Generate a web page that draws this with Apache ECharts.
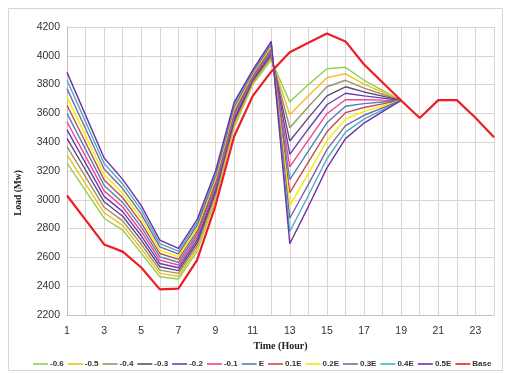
<!DOCTYPE html>
<html><head><meta charset="utf-8">
<script src="https://cdn.jsdelivr.net/npm/echarts@6/dist/echarts.min.js"></script>
<style>html,body{margin:0;padding:0;background:#fff}#c{width:507px;height:374px}</style>
</head><body><div id="c"></div>
<script>
const hours = ['1','2','3','4','5','6','7','8','9','10','11','12','13','14','15','16','17','18','19','20','21','22','23','24'];
const seriesNames = ['-0.6','-0.5','-0.4','-0.3','-0.2','-0.1','E','0.1E','0.2E','0.3E','0.4E','0.5E','Base'];
const colors = ['#92d050','#f5bd1f','#9a9466','#5f497a','#6a3cb0','#f0468c','#4f81bd','#c0504d','#f2ee00','#8064a2','#4bacc6','#7030a0','#ee1c25'];
const m06 = [3255,3064,2872,2790,2630,2466,2450,2640,3000,3500,3800,3970,3680,3800,3910,3920,3830,3760,3690];
const m05 = [3312,3111,2910,2822,2660,2489,2469,2660,3018,3516,3809,3982,3590,3723,3848,3875,3803,3747,3690];
const m04 = [3370,3159,2948,2854,2690,2512,2489,2680,3036,3532,3818,3994,3500,3646,3785,3830,3776,3733,3690];
const m03 = [3427,3207,2986,2886,2720,2535,2508,2700,3054,3548,3827,4006,3408,3569,3722,3785,3749,3720,3690];
const m02 = [3485,3255,3024,2918,2750,2558,2528,2720,3072,3564,3836,4018,3315,3492,3660,3740,3722,3706,3690];
const m01 = [3542,3302,3062,2950,2780,2581,2547,2740,3090,3580,3845,4030,3228,3415,3598,3695,3695,3692,3690];
const e10 = [3600,3350,3100,2982,2810,2604,2566,2760,3108,3596,3854,4042,3140,3338,3535,3650,3668,3679,3690];
const p01 = [3657,3398,3138,3014,2840,2627,2586,2780,3126,3612,3863,4054,3050,3261,3472,3605,3641,3666,3690];
const p02 = [3715,3446,3176,3046,2870,2650,2605,2800,3144,3628,3872,4066,2960,3184,3410,3560,3614,3652,3690];
const p03 = [3772,3493,3214,3078,2900,2673,2625,2820,3162,3644,3881,4078,2872,3107,3348,3515,3587,3639,3690];
const p04 = [3830,3541,3252,3110,2930,2696,2644,2840,3180,3660,3890,4090,2780,3030,3285,3470,3560,3625,3690];
const p05 = [3885,3588,3290,3142,2960,2720,2663,2860,3200,3676,3900,4100,2695,2953,3222,3425,3533,3612,3690];
const base = [3030,2860,2690,2640,2530,2378,2383,2580,2960,3440,3720,3890,4025,4090,4155,4100,3940,3815,3690,3568,3692,3692,3570,3435];
const allData = [m06,m05,m04,m03,m02,m01,e10,p01,p02,p03,p04,p05,base];

const chart = echarts.init(document.getElementById('c'), null, {renderer:'canvas'});
const series = seriesNames.map((n,i)=>({
  name:n, type:'line', data:allData[i], symbol:'none', smooth:false,
  lineStyle:{color:colors[i], width: n==='Base'?2.2:1.4},
  itemStyle:{color:colors[i]}, z: n==='Base'?5:2, animation:false
}));
chart.setOption({
  animation:false,
  backgroundColor:'#fff',
  color:colors,
  graphic:[
    {type:'rect', shape:{x:8.5,y:8.5,width:494,height:362}, style:{fill:'none', stroke:'#d6d6d6', lineWidth:1}, silent:true},
    {type:'text', x:19, y:193, rotation:Math.PI/2, style:{text:'Load (Mw)', font:'bold 9.5px "Liberation Serif"', fill:'#222', align:'center', verticalAlign:'middle'}, silent:true}
  ],
  grid:{left:67, right:13, top:27, bottom:59},
  xAxis:{type:'category', data:hours, boundaryGap:false,
    name:'Time (Hour)', nameLocation:'middle', nameGap:25,
    nameTextStyle:{fontFamily:'Liberation Serif', fontWeight:'bold', fontSize:10, color:'#222'},
    axisLine:{lineStyle:{color:'#c8bcbc'}}, axisTick:{show:false},
    axisLabel:{interval:1, fontFamily:'Liberation Sans', fontSize:10.5, color:'#333', margin:11},
    splitLine:{show:true, interval:0, lineStyle:{color:'#ddd3d3', width:1}}},
  yAxis:{type:'value', min:2200, max:4200, interval:200,
    axisLine:{show:true, lineStyle:{color:'#c8bcbc'}}, axisTick:{show:false},
    axisLabel:{fontFamily:'Liberation Sans', fontSize:10.5, color:'#333', margin:7, formatter:(v)=>String(v)},
    splitLine:{lineStyle:{color:'#ddd3d3', width:1}}},
  legend:{data:seriesNames, left:33, top:360, padding:0, width:474, itemWidth:15, itemHeight:8, itemGap:4,
    icon:'path://M0,4 L15,4 L15,5.6 L0,5.6 Z',
    textStyle:{fontFamily:'Liberation Sans Narrow, Liberation Sans', fontWeight:'bold', fontSize:8, color:'#333', padding:[0,0,0,-3]}},
  series:series
});
</script></body></html>
